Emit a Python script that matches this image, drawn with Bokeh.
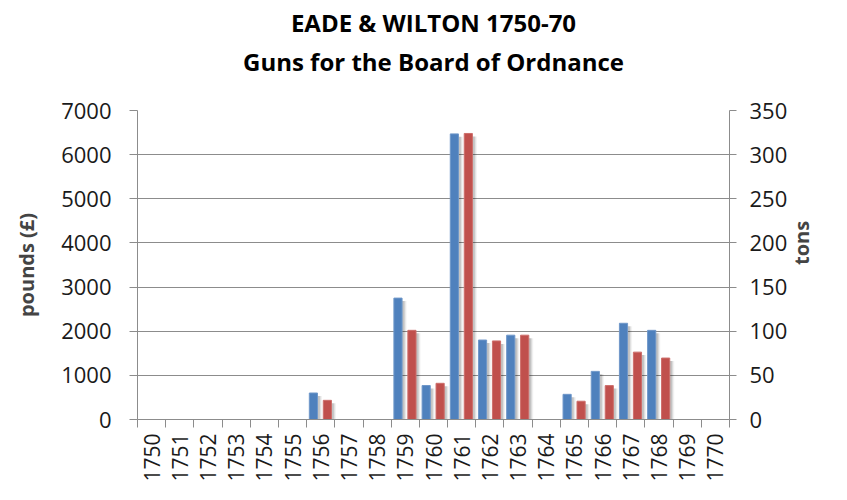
import math
from bokeh.plotting import figure
from bokeh.models import Range1d, LinearAxis, FixedTicker, ColumnDataSource
from bokeh.embed import file_html
from bokeh.resources import INLINE

# ---- data ----
years = [str(y) for y in range(1750, 1771)]
pounds = [0, 0, 0, 0, 0, 0, 600, 0, 0, 2750, 770, 6470, 1800, 1910, 0, 570, 1090, 2180, 2020, 0, 0]
tons = [0, 0, 0, 0, 0, 0, 21.7, 0, 0, 101, 41, 324, 89, 95.5, 0, 20.7, 38.4, 76.3, 69.6, 0, 0]
pounds_ticks = [0, 1000, 2000, 3000, 4000, 5000, 6000, 7000]
tons_ticks = [0, 50, 100, 150, 200, 250, 300, 350]
title_lines = ["EADE & WILTON 1750-70", "Guns for the Board of Ordnance"]

BLUE = "#4F81BD"
RED = "#C0504D"
FONT = "Open Sans"

n = len(years)
centers = [i + 0.5 for i in range(n)]
bounds = list(range(n + 1))

p = figure(width=831, height=484,
           x_range=Range1d(0, n), y_range=Range1d(pounds_ticks[0], pounds_ticks[-1]),
           output_backend="svg", toolbar_location=None,
           min_border_left=137, min_border_right=98, min_border_top=108, min_border_bottom=64)
p.extra_y_ranges = {"tons": Range1d(tons_ticks[0], tons_ticks[-1])}
p.outline_line_color = None
p.background_fill_color = "white"
p.border_fill_color = "white"

# ---- bars ----
BW = 0.29
OFF_B = -0.26
OFF_R = 0.235

def bar_source(vals, off):
    xs, tops = [], []
    for c, v in zip(centers, vals):
        if v and v > 0:
            xs.append(c + off)
            tops.append(v)
    return ColumnDataSource(dict(x=xs, top=tops))

src_b = bar_source(pounds, OFF_B)
src_r = bar_source(tons, OFF_R)

# soft shadows, offset to the right
px_p = (pounds_ticks[-1] - pounds_ticks[0]) / 312.0
px_t = (tons_ticks[-1] - tons_ticks[0]) / 312.0
for dx, w, a in [(0.10, 0.26, 0.12), (0.11, 0.31, 0.08), (0.12, 0.37, 0.05)]:
    sb = ColumnDataSource(dict(x=[x + dx for x in src_b.data["x"]],
                               top=[t - 3 * px_p for t in src_b.data["top"]]))
    sr = ColumnDataSource(dict(x=[x + dx for x in src_r.data["x"]],
                               top=[t - 3 * px_t for t in src_r.data["top"]]))
    p.vbar(x="x", top="top", bottom=0, width=w, source=sb, fill_color="black",
           fill_alpha=a, line_color=None)
    p.vbar(x="x", top="top", bottom=0, width=w, source=sr, fill_color="black",
           fill_alpha=a, line_color=None, y_range_name="tons")

p.vbar(x="x", top="top", bottom=0, width=BW, source=src_b, fill_color=BLUE,
       line_color="#6F97C9", line_width=1)
p.vbar(x="x", top="top", bottom=0, width=BW, source=src_r, fill_color=RED,
       line_color="#CD6E6B", line_width=1, y_range_name="tons")

# ---- axes ----
GRAY = "#8C8C8C"
TXT = "#1a1a1a"
xa = p.xaxis[0]
xa.ticker = FixedTicker(ticks=centers, minor_ticks=bounds)
xa.major_label_overrides = {c: y for c, y in zip(centers, years)}
xa.major_tick_out = 0
xa.major_tick_in = 0
xa.minor_tick_out = 8
xa.minor_tick_in = 0
xa.minor_tick_line_color = GRAY
xa.axis_line_color = GRAY
xa.major_label_orientation = math.pi / 2
xa.major_label_standoff = 6
xa.major_label_text_font = FONT
xa.major_label_text_font_size = "21px"
xa.major_label_text_color = TXT

ya = p.yaxis[0]
ya.ticker = FixedTicker(ticks=pounds_ticks)
ya.axis_label = "pounds (£)"
ya.axis_label_text_font = FONT
ya.axis_label_text_font_style = "bold"
ya.axis_label_text_font_size = "20px"
ya.axis_label_standoff = 18
ya.major_tick_out = 8
ya.major_tick_in = 0
ya.minor_tick_out = 0
ya.minor_tick_in = 0
ya.major_tick_line_color = GRAY
ya.axis_line_color = GRAY
ya.major_label_standoff = 18
ya.major_label_text_font = FONT
ya.major_label_text_font_size = "22px"
ya.major_label_text_color = TXT

ra = LinearAxis(y_range_name="tons", ticker=FixedTicker(ticks=tons_ticks))
ra.axis_label = "tons"
ra.axis_label_text_font = FONT
ra.axis_label_text_font_style = "bold"
ra.axis_label_text_font_size = "20px"
ra.axis_label_standoff = 11
if "axis_label_orientation" in LinearAxis.properties():
    ra.axis_label_orientation = math.pi / 2
ra.major_tick_out = 7
ra.major_tick_in = 0
ra.minor_tick_out = 0
ra.minor_tick_in = 0
ra.major_tick_line_color = GRAY
ra.axis_line_color = GRAY
ra.major_label_standoff = 13
ra.major_label_text_font = FONT
ra.major_label_text_font_size = "22px"
ra.major_label_text_color = TXT
p.add_layout(ra, "right")

p.xgrid.visible = False
p.ygrid.ticker = FixedTicker(ticks=pounds_ticks)
p.ygrid.grid_line_color = GRAY
p.ygrid.grid_line_width = 1

# ---- two-line title: first line as the plot title, second as an axis label above ----
p.title.text = title_lines[0]
p.title.align = "center"
p.title.text_font = FONT
p.title.text_font_style = "bold"
p.title.text_font_size = "24px"
p.title.text_color = "black"
p.title.standoff = 6

ta = LinearAxis(ticker=FixedTicker(ticks=[]), axis_label=title_lines[1])
ta.axis_line_color = None
ta.major_tick_out = 0
ta.major_tick_in = 0
ta.minor_tick_out = 0
ta.minor_tick_in = 0
ta.major_label_standoff = 0
ta.axis_label_standoff = 33
ta.axis_label_text_font = FONT
ta.axis_label_text_font_style = "bold"
ta.axis_label_text_font_size = "24px"
ta.axis_label_text_color = "black"
p.add_layout(ta, "above")

open("out.html", "w").write(file_html(p, INLINE))
